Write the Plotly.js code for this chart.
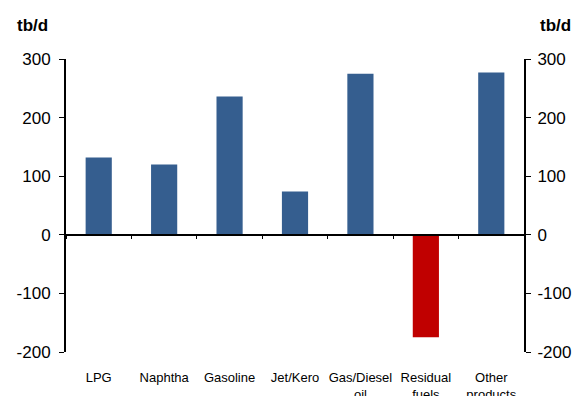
<!DOCTYPE html>
<html>
<head>
<meta charset="utf-8">
<script src="https://cdn.plot.ly/plotly-3.0.1.min.js"></script>
<style>html,body{margin:0;padding:0;background:#fff;}#chart{width:577px;height:396px;}</style>
</head>
<body>
<div id="chart"></div>
<script>
const categories = ["LPG", "Naphtha", "Gasoline", "Jet/Kero", "Gas/Diesel<br>oil", "Residual<br>fuels", "Other<br>products"];
const values = [132, 120, 236, 74, 275, -175, 277];
const yTickVals = [-200, -100, 0, 100, 200, 300];
const yTickText = ["-200", "-100", "0", "100", "200", "300"];
const unitLabel = "tb/d";

const blue = "#355E8F";
const red = "#C00000";
const colors = values.map(v => v < 0 ? red : blue);

const traces = [
  {
    type: "bar",
    x: categories,
    y: values,
    marker: {color: colors, line: {width: 0}},
    xaxis: "x",
    yaxis: "y",
    hoverinfo: "skip"
  },
  {
    type: "scatter",
    mode: "none",
    x: categories,
    y: values.map(() => 0),
    xaxis: "x2",
    yaxis: "y2",
    hoverinfo: "skip",
    showlegend: false
  }
];

const font = {family: "Liberation Sans, Arial, sans-serif", color: "#000"};

const layout = {
  width: 577,
  height: 396,
  margin: {l: 66, r: 53, t: 59, b: 44},
  paper_bgcolor: "#fff",
  plot_bgcolor: "rgba(0,0,0,0)",
  showlegend: false,
  bargap: 0.6,
  font: font,
  xaxis: {
    type: "category",
    categoryorder: "array",
    categoryarray: categories,
    range: [-0.5, 6.5],
    showline: false,
    showgrid: false,
    zeroline: false,
    ticks: "outside",
    ticklen: 13,
    tickcolor: "rgba(0,0,0,0)",
    tickfont: {family: font.family, size: 13, color: "#000"},
    fixedrange: true
  },
  xaxis2: {
    type: "category",
    categoryorder: "array",
    categoryarray: categories,
    range: [-0.5, 6.5],
    overlaying: "x",
    anchor: "free",
    position: 0.4,
    showline: true,
    linewidth: 2,
    linecolor: "#000",
    showgrid: false,
    zeroline: false,
    ticks: "outside",
    tickson: "boundaries",
    ticklen: 3,
    tickwidth: 1,
    tickcolor: "#000",
    showticklabels: false
  },
  yaxis: {
    range: [-200, 300],
    tickvals: yTickVals,
    ticktext: yTickText,
    showline: true,
    linewidth: 2,
    linecolor: "#000",
    showgrid: false,
    zeroline: false,
    ticks: "outside",
    ticklen: 5,
    tickwidth: 1,
    tickcolor: "#000",
    ticklabelstandoff: 5,
    tickfont: {family: font.family, size: 17, color: "#000"},
    fixedrange: true
  },
  yaxis2: {
    range: [-200, 300],
    tickvals: yTickVals,
    ticktext: yTickText,
    overlaying: "y",
    side: "right",
    anchor: "x",
    showline: true,
    linewidth: 2,
    linecolor: "#000",
    showgrid: false,
    zeroline: false,
    ticks: "outside",
    ticklen: 5,
    tickwidth: 1,
    tickcolor: "#000",
    ticklabelstandoff: 3,
    tickfont: {family: font.family, size: 17, color: "#000"},
    fixedrange: true
  },
  annotations: [
    {text: "<b>" + unitLabel + "</b>", xref: "paper", yref: "paper", x: -0.112, y: 1.115, xanchor: "left", yanchor: "middle", showarrow: false, font: {family: font.family, size: 17, color: "#000"}},
    {text: "<b>" + unitLabel + "</b>", xref: "paper", yref: "paper", x: 1.03, y: 1.115, xanchor: "left", yanchor: "middle", showarrow: false, font: {family: font.family, size: 17, color: "#000"}}
  ]
};

Plotly.newPlot("chart", traces, layout, {displayModeBar: false, staticPlot: true});
</script>
</body>
</html>
